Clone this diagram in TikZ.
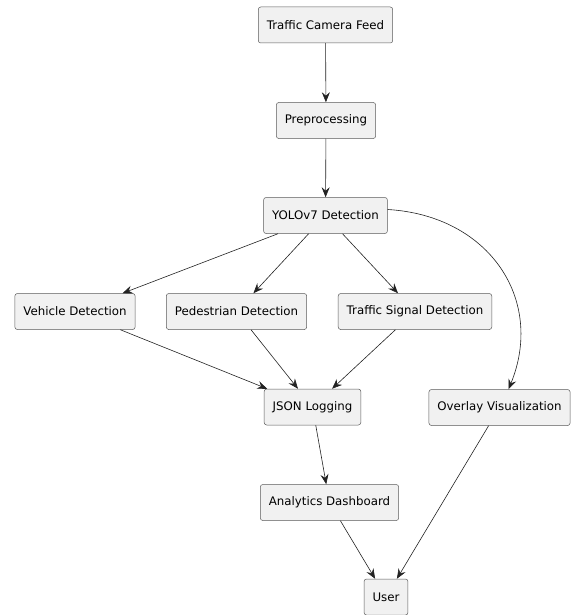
\documentclass[tikz,border=0pt]{standalone}
\usepackage{fontspec}
\setmainfont{DejaVu Sans}
\usetikzlibrary{arrows.meta}
\definecolor{boxfill}{HTML}{F1F1F1}
\definecolor{boxline}{HTML}{5A5A5A}
\definecolor{wire}{HTML}{222222}

\begin{document}
\begin{tikzpicture}[x=1pt,y=-1pt,
  stage/.style={draw=boxline, fill=boxfill, line width=.5pt, rounded corners=2.5pt, minimum height=36pt, inner xsep=8.5pt, font=\fontsize{11.8}{14}\selectfont},
  flow/.style={draw=wire, line width=.6pt, -{Stealth[length=10pt,width=8pt,inset=3.5pt]}}]
\useasboundingbox (0,0) rectangle (573,615);
\path node[stage] (cam) at (325.5,25) {Traffic Camera Feed};
\path node[stage] (pre) at (326,120.5) {Preprocessing};
\path node[stage] (yolo) at (325.5,215.5) {YOLOv7 Detection};
\path node[stage] (veh) at (75,311.5) {Vehicle Detection};
\path node[stage] (ped) at (236.5,311.5) {Pedestrian Detection};
\path node[stage] (sig) at (415,311.5) {Traffic Signal Detection};
\path node[stage] (json) at (312.5,407) {JSON Logging};
\path node[stage] (ovl) at (499.5,407.5) {Overlay Visualization};
\path node[stage] (dash) at (329.5,502.5) {Analytics Dashboard};
\path node[stage] (user) at (386,597) {User};
\draw[flow] (cam) -- (pre);
\draw[flow] (pre) -- (yolo);
\draw[flow] (yolo) -- (veh);
\draw[flow] (yolo) -- (ped);
\draw[flow] (yolo) -- (sig);
\draw[flow] ([yshift=6pt]yolo.east) .. controls +(102,6) and +(36.5,-89) .. ([xshift=9pt]ovl.north);
\draw[flow] (veh) -- (json);
\draw[flow] (ped) -- (json);
\draw[flow] (sig) -- (json);
\draw[flow] (json) -- (dash);
\draw[flow] (dash) -- (user);
\draw[flow] (ovl) -- (user);
\end{tikzpicture}
\end{document}
